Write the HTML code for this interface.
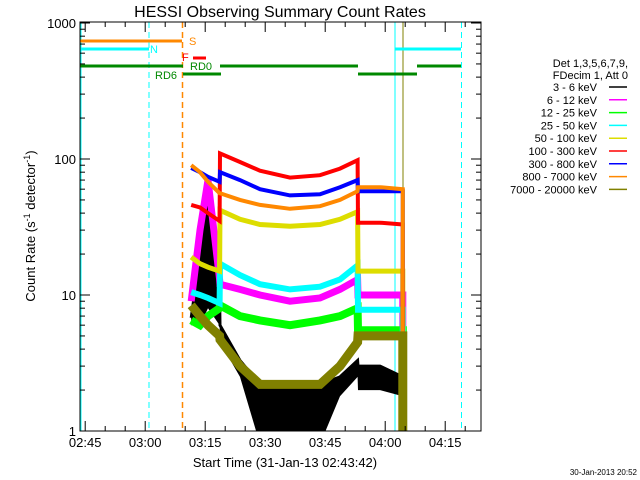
<!DOCTYPE html>
<html><head><meta charset="utf-8"><style>
body{margin:0;background:#fff;}
svg{display:block;font-family:"Liberation Sans",sans-serif;}
</style></head><body>
<svg id="chart" width="640" height="480" viewBox="0 0 640 480" xmlns="http://www.w3.org/2000/svg">
<rect width="640" height="480" fill="#fff"/>
<text x="280" y="17" font-size="16" text-anchor="middle">HESSI Observing Summary Count Rates</text>
<g id="marks"></g>
<g id="axes"></g>
<text transform="translate(35,226) rotate(-90)" font-size="13" text-anchor="middle">Count Rate (s<tspan baseline-shift="super" font-size="9">-1</tspan> detector<tspan baseline-shift="super" font-size="9">-1</tspan>)</text>
<text x="285" y="467" font-size="13" text-anchor="middle">Start Time (31-Jan-13 02:43:42)</text>
<text x="637" y="475" font-size="8" text-anchor="end">30-Jan-2013 20:52</text>
<g id="legend">
<text x="628" y="67" font-size="11" text-anchor="end">Det 1,3,5,6,7,9,</text>
<text x="628" y="79" font-size="11" text-anchor="end">FDecim 1, Att 0</text>
</g>
</svg>
<script>
const times=[27.8,30,32,34.9,35,40,45,52.5,60,65,69.4,69.5,75,80.7];
const bands=["3 - 6 keV","6 - 12 keV","12 - 25 keV","25 - 50 keV","50 - 100 keV","100 - 300 keV","300 - 800 keV","800 - 7000 keV","7000 - 20000 keV"];
const colors=["#000","#f0f","#0f0","#0ff","#dd0","#f00","#00f","#f80","#808000"];
const v36=[6.8,20,50,10,6,3.3,2.2,2.2,2.2,2.5,3.3,3,3,2.5];
const v36lo=[6,6,8,6,4.5,2.5,0.8,0.8,0.8,1.8,2.5,2,2,1.8];
const v612=[9,30,70,13,12,11,10,9,9.5,11,13,10,10,10];
const v1225=[6.5,6,7,8,8.4,7,6.5,6,6.5,7,8,5.5,5.5,5.5];
const v2550=[10.5,10,9.5,8.7,17,14,12,11,11.5,13,16.5,7.8,7.8,7.8];
const v50100=[19,17,16,15,42,36,33,32,33,36,41,15,15,15];
const v100300=[46,44,40,35,110,95,82,73,76,85,98,34,34,33];
const v300800=[86,80,74,68,80,70,60,54,55,62,70,58,58,58];
const v8007000=[90,80,68,56,56,50,46,43,45,50,58,62,62,60];
const v700020000=[8.4,7,6,5,4.7,3,2.2,2.2,2.2,3,4.5,5,5,5];
const series=[v36,v612,v1225,v2550,v50100,v100300,v300800,v8007000,v700020000];
const yTicks=["1","10","100","1000"];
const xTickLabels=["02:45","03:00","03:15","03:30","03:45","04:00","04:15"];

const L=80,R=481,T=22,B=431;
const X=m=>L+m*4; // minutes since 02:43:42
const Y=v=>{const c=Math.max(v,0.8);return B-Math.log10(c)*136;};
const NS="http://www.w3.org/2000/svg";
const marks=document.getElementById('marks'),axes=document.getElementById('axes'),legend=document.getElementById('legend');
function mk(tag,attrs,parent){const e=document.createElementNS(NS,tag);for(const k in attrs)e.setAttribute(k,attrs[k]);parent.appendChild(e);return e;}
function line(x1,y1,x2,y2,c,w,dash,parent,name){const e=mk('line',{x1,y1,x2,y2,stroke:c,'stroke-width':w},parent);if(dash)e.setAttribute('stroke-dasharray',dash);

return e;}
line(80.5,T,80.5,B,'#0ff',2,null,marks,'saa-start-line');
line(149,T,149,B,'#0ff',1,'6,4',marks,'night-end-line');
line(182.5,T,182.5,B,'#f80',1.5,'6,4',marks,'flare-start-line');
line(395,T,395,B,'#0ff',1,null,marks,'night-start-line');
line(403,T,403,B,'#808000',1,null,marks,'data-gap-line');
line(461.5,T,461.5,B,'#0ff',1,'6,4',marks,'night-end-line-2');
line(80,41,182,41,'#f80',3,null,marks,'saa-flag-bar');
line(80,49,149,49,'#0ff',3,null,marks,'night-flag-bar');
line(395,49,461,49,'#0ff',3,null,marks,'night-flag-bar-2');
line(193,58,206,58,'#f00',3,null,marks,'flare-flag-bar');
line(80,66,183,66,'#080',3,null,marks,'decim-flag-bar');
line(220,66,358,66,'#080',3,null,marks,'decim-flag-bar-2');
line(417,66,461,66,'#080',3,null,marks,'decim-flag-bar-3');
line(183,74,221,74,'#080',3,null,marks,'rd6-flag-bar');
line(358,74,417,74,'#080',3,null,marks,'rd6-flag-bar-2');
const lbl=[["S",189,45,'#f80'],["N",150,53,'#0ff'],["F",182,61,'#f00'],["RD0",190,70,'#080'],["RD6",155,79,'#080']];
lbl.forEach(l=>{const t=mk('text',{x:l[1],y:l[2],fill:l[3],'font-size':11},marks);t.textContent=l[0];

});
const cp=mk('clipPath',{id:'pc'},marks);mk('rect',{x:L,y:T,width:R-L,height:B-T},cp);
const widths=[3,7,8,6,5,4,4,4,9];
// black band (min/max envelope of 3-6 keV)
const bandPts=v36.map((v,j)=>X(times[j]).toFixed(1)+','+Y(v).toFixed(1)).concat(v36lo.map((v,j)=>X(times[j]).toFixed(1)+','+Y(v).toFixed(1)).reverse());
const bp=mk('polygon',{points:bandPts.join(' '),fill:'#000','clip-path':'url(#pc)'},marks);


series.forEach((s,i)=>{
 const pts=s.map((v,j)=>X(times[j]).toFixed(1)+','+Y(v).toFixed(1));
 pts.push(X(times[times.length-1])+','+B);
 const p=mk('polyline',{points:pts.join(' '),fill:'none',stroke:colors[i],'stroke-width':widths[i],'clip-path':'url(#pc)'},marks);
 
 
});
const box=mk('rect',{x:L,y:T,width:R-L,height:B-T,fill:'none',stroke:'#000','stroke-width':1},axes);


for(let i=0;i<20;i++){const m=1.3+5*i;const x=X(m);const len=(i%3==0)?10:5;
 line(x,B,x,B-len,'#000',1,null,axes,'x-tick');line(x,T,x,T+len,'#000',1,null,axes,'x-tick-top');}
xTickLabels.forEach((s,i)=>{const t=mk('text',{x:X(1.3+15*i),y:447,'font-size':13,'text-anchor':'middle'},axes);t.textContent=s;

});
for(let d=0;d<3;d++)for(let k=1;k<10;k++){const y=Y(k*Math.pow(10,d));const len=k==1?10:5;
 line(L,y,L+len,y,'#000',1,null,axes,'y-tick');line(R,y,R-len,y,'#000',1,null,axes,'y-tick-right');}
line(L,Y(1000),L+10,Y(1000),'#000',1,null,axes,'y-tick');line(R,Y(1000),R-10,Y(1000),'#000',1,null,axes,'y-tick-right');
yTicks.forEach((s,i)=>{const t=mk('text',{x:76,y:Y(Math.pow(10,i))+5,'font-size':13,'text-anchor':'end'},axes);t.textContent=s;

});
bands.forEach((b,i)=>{const y=87+12.8*i;const t=mk('text',{x:597,y:y+4,'font-size':11,'text-anchor':'end'},legend);t.textContent=b;


line(609,y,627,y,colors[i],1.5,null,legend,'legend-swatch');});
</script>
</body></html>
